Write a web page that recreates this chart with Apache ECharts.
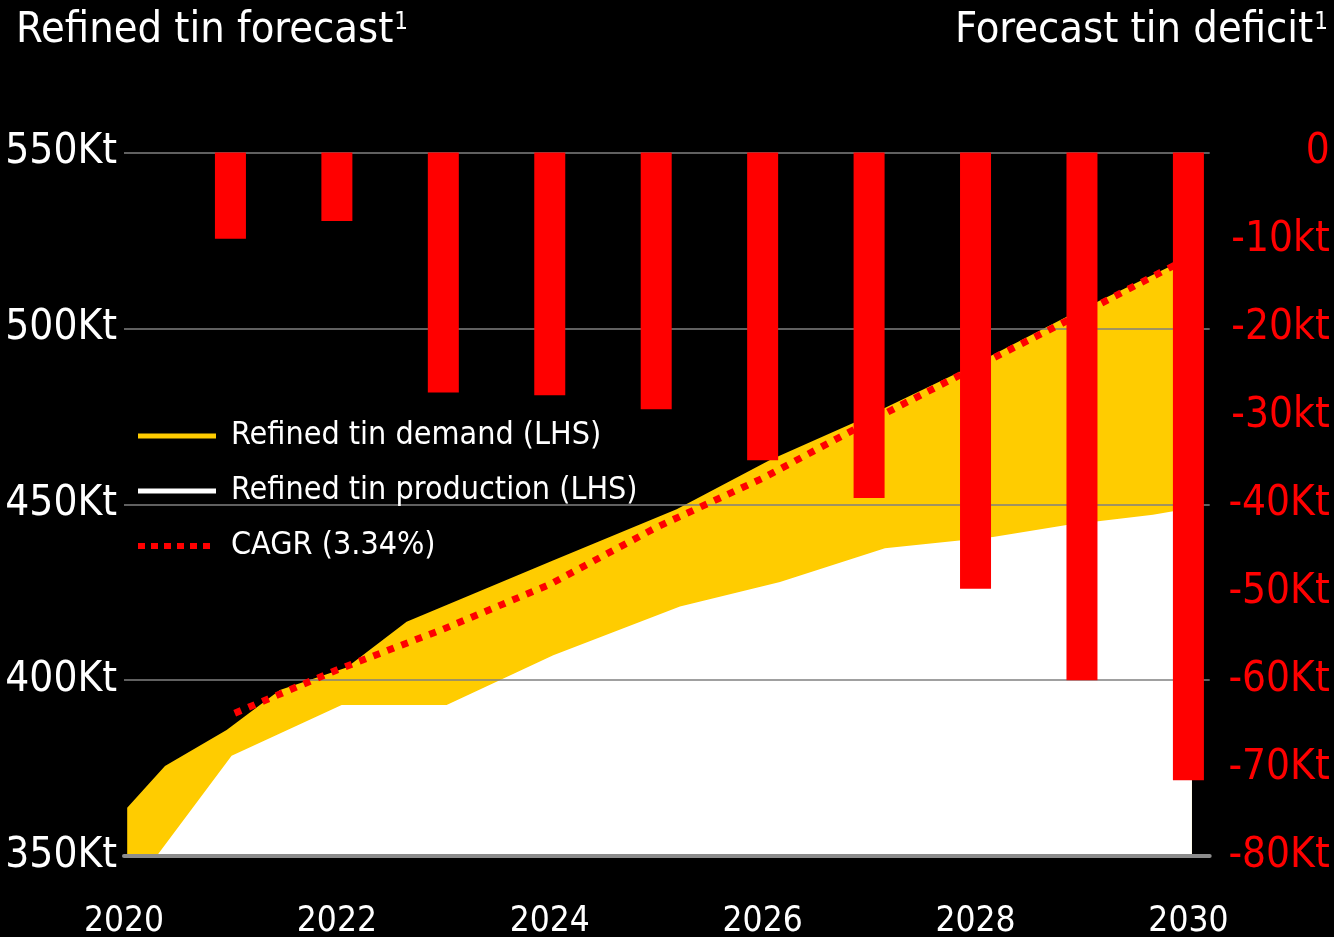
<!DOCTYPE html>
<html>
<head>
<meta charset="utf-8">
<script src="https://cdn.jsdelivr.net/npm/echarts@6/dist/echarts.min.js"></script>
<style>
html,body{margin:0;padding:0;background:#000;}
#c{width:1334px;height:937px;}
</style>
</head>
<body>
<div id="c"></div>
<script>
// ---- data ----
const xTickYears = [2020, 2022, 2024, 2026, 2028, 2030];
const leftTickLabels = ['350Kt', '400Kt', '450Kt', '500Kt', '550Kt'];
const rightTickLabels = ['0', '-10kt', '-20kt', '-30kt', '-40Kt', '-50Kt', '-60Kt', '-70Kt', '-80Kt'];

const demandYears = [2020.03, 2020.385, 2020.964, 2021.465, 2022.092, 2022.655, 2024.03, 2025.192, 2026.069, 2026.883, 2027.854, 2028.856, 2029.855, 2030.033];
const demandValues = [363.7, 375.6, 385.8, 397.2, 403.6, 416.6, 434.0, 448.6, 462.6, 473.5, 487.7, 503.3, 518.0, 520.2];

const productionYears = [2020.03, 2020.307, 2021.011, 2022.045, 2023.031, 2024.033, 2025.223, 2026.163, 2027.149, 2028.164, 2028.856, 2029.667, 2030.033];
const productionValues = [350, 350, 378.5, 392.9, 392.9, 407.1, 420.9, 427.9, 437.5, 440.7, 444.1, 447.0, 448.9];

const cagrYears = [2021.04, 2022, 2023, 2024, 2025, 2026, 2027, 2028, 2029, 2030];
const cagrValues = [390.6, 402.9, 414.5, 427.2, 443.4, 457.4, 473.5, 489.0, 504.3, 520.0];

const deficitYears = [2021, 2022, 2023, 2024, 2025, 2026, 2027, 2028, 2029, 2030];
const deficitValues = [-9.8, -7.8, -27.3, -27.6, -29.2, -35.0, -39.3, -49.6, -60.0, -71.4];

const seriesNames = ['Refined tin demand (LHS)', 'Refined tin production (LHS)', 'CAGR (3.34%)'];
const leftTitle = 'Refined tin forecast';
const rightTitle = 'Forecast tin deficit';

// ---- build ----
const FONT = "'Liberation Sans Narrow', 'DejaVu Sans Condensed', 'Roboto Condensed', 'Arial Narrow', sans-serif";
const pairs = (xs, ys) => xs.map((x, i) => [x, ys[i]]);
const titleRich = {
  m: {fontFamily: FONT, fontSize: 43, fontWeight: 'normal', color: '#fff', lineHeight: 46},
  s: {fontFamily: FONT, fontSize: 24, fontWeight: 'normal', color: '#fff', verticalAlign: 'top', lineHeight: 24, padding: [3, 0, 0, 1]}
};

const chart = echarts.init(document.getElementById('c'), null, {renderer: 'canvas'});
chart.setOption({
  backgroundColor: '#000000',
  animation: false,
  textStyle: {fontFamily: FONT},
  title: [
    {
      text: '{m|' + leftTitle + '}{s|1}',
      left: 16, top: 8, padding: 0,
      textStyle: {fontWeight: 'normal', rich: titleRich}
    },
    {
      text: '{m|' + rightTitle + '}{s|1}',
      right: 6, top: 8, padding: 0,
      textStyle: {fontWeight: 'normal', rich: titleRich}
    }
  ],
  legend: {
    orient: 'vertical',
    left: 135, top: 420,
    itemWidth: 78, itemHeight: 12, itemGap: 23,
    padding: 0,
    itemStyle: {color: 'rgba(0,0,0,0)', borderWidth: 0},
    textStyle: {color: '#fff', fontSize: 32, fontFamily: FONT, padding: [0, 0, 0, 10]},
    data: [
      {name: seriesNames[0], lineStyle: {color: '#FFCC00', width: 5, type: 'solid'}},
      {name: seriesNames[1], lineStyle: {color: '#FFFFFF', width: 5, type: 'solid'}},
      {name: seriesNames[2], lineStyle: {color: '#FF0000', width: 6, type: [7, 6], cap: 'butt'}}
    ]
  },
  grid: {left: 124, right: 124.3, top: 152.5, bottom: 81, containLabel: false, outerBoundsMode: 'none'},
  xAxis: {
    type: 'value', min: 2020, max: 2030.2, z: 3,
    axisLine: {show: true, onZero: false, lineStyle: {color: '#8c8c8c', width: 4}},
    axisTick: {show: false},
    splitLine: {show: false},
    axisLabel: {
      customValues: xTickYears,
      color: '#fff', fontSize: 35, fontFamily: FONT, margin: 48,
      formatter: v => String(Math.round(v))
    }
  },
  yAxis: [
    {
      type: 'value', min: 350, max: 550, interval: 50, z: 3,
      axisLine: {show: false}, axisTick: {show: false},
      splitLine: {show: true, lineStyle: {color: '#808080', width: 1.5}},
      axisLabel: {
        color: '#fff', fontSize: 42, fontFamily: FONT, margin: 7,
        formatter: v => leftTickLabels[Math.round((v - 350) / 50)]
      }
    },
    {
      type: 'value', min: -80, max: 0, interval: 10, position: 'right', z: 3,
      axisLine: {show: false}, axisTick: {show: false},
      splitLine: {show: false},
      axisLabel: {
        color: '#FF0000', fontSize: 42, fontFamily: FONT, margin: 120, align: 'right',
        formatter: v => rightTickLabels[Math.round(-v / 10)]
      }
    }
  ],
  series: [
    {
      name: seriesNames[0], type: 'line', yAxisIndex: 0, z: 1,
      symbol: 'none', showSymbol: false,
      lineStyle: {width: 0, color: '#FFCC00'},
      itemStyle: {color: '#FFCC00'},
      areaStyle: {color: '#FFCC00', opacity: 1},
      data: pairs(demandYears, demandValues)
    },
    {
      name: seriesNames[1], type: 'line', yAxisIndex: 0, z: 2,
      symbol: 'none', showSymbol: false,
      lineStyle: {width: 0, color: '#FFFFFF'},
      itemStyle: {color: '#FFFFFF'},
      areaStyle: {color: '#FFFFFF', opacity: 1},
      data: pairs(productionYears, productionValues)
    },
    {
      name: seriesNames[2], type: 'line', yAxisIndex: 0, z: 4,
      symbol: 'none', showSymbol: false,
      lineStyle: {width: 7, color: '#FF0000', type: [7, 8], cap: 'butt'},
      itemStyle: {color: '#FF0000'},
      data: pairs(cagrYears, cagrValues)
    },
    {
      name: 'Forecast tin deficit', type: 'bar', yAxisIndex: 1, z: 5,
      barWidth: 31,
      itemStyle: {color: '#FF0000'},
      data: pairs(deficitYears, deficitValues)
    }
  ]
});
</script>
</body>
</html>
